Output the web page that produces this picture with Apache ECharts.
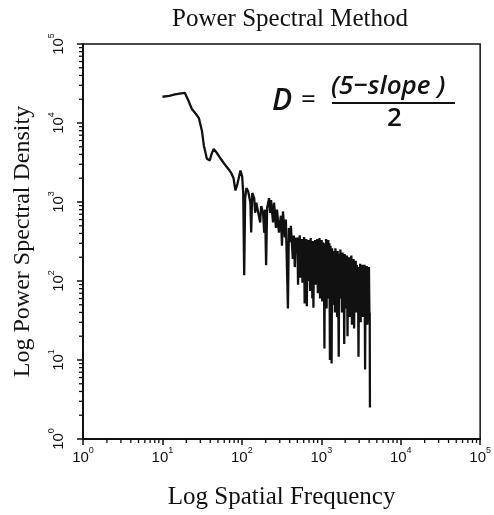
<!DOCTYPE html>
<html>
<head>
<meta charset="utf-8">
<script src="https://cdn.jsdelivr.net/npm/echarts@6/dist/echarts.min.js"></script>
<style>
html,body{margin:0;padding:0;background:#fff;}
#chart{width:494px;height:515px;}
</style>
</head>
<body>
<div id="chart"></div>
<script>
// ---- data ----
const freq = [
  10, 12.2, 14.4, 17.2, 19.2, 21, 23.5, 26.4, 28.8, 31.4, 33.2, 36.2, 39.4, 41.7, 44.2, 48.2, 54, 60.7, 68, 74, 78.6, 83, 88, 96, 101,
  104, 107, 110, 114, 120, 128, 131, 135, 143, 147, 152, 161, 170, 175, 185, 191, 196, 202, 208, 220, 227, 233, 247, 254, 269, 277,
  293, 310, 320, 329, 348, 358, 380, 391, 402, 414, 438, 451, 464, 477, 491, 500,
  510, 518, 526, 535, 543, 552, 561, 570, 579, 588, 598, 607, 617, 627, 637, 647, 658, 668, 679, 690,
  701, 712, 724, 735, 747, 759, 771, 784, 796, 809, 822, 835, 849, 862, 876, 890, 905, 919, 934, 949,
  964, 980, 995, 1011, 1028, 1044, 1061, 1078, 1095, 1113, 1131, 1149, 1167, 1186, 1205, 1225, 1244, 1264, 1285, 1305,
  1326, 1348, 1369, 1391, 1414, 1436, 1459, 1483, 1507, 1531, 1555, 1580, 1606, 1632, 1658, 1684, 1711, 1739, 1767, 1795,
  1824, 1853, 1883, 1913, 1944, 1975, 2007, 2039, 2072, 2105, 2139, 2173, 2208, 2243, 2279, 2316, 2353, 2391, 2429, 2468,
  2508, 2548, 2589, 2630, 2673, 2715, 2759, 2803, 2848, 2894, 2940, 2988, 3036, 3084, 3134, 3184, 3235, 3287, 3340, 3393,
  3448, 3503, 3559, 3616, 3674, 3733, 3793, 3854, 3916, 3979, 4043, 4070, 4096
];
const psd = [
  21500, 22100, 23000, 23700, 24000, 19700, 15000, 13000, 11500, 8000, 5200, 3550, 3350, 4100, 4700, 4200, 3550, 3000, 2600, 2300, 2000, 1400, 1700, 2500, 2100,
  1300, 118, 1120, 1500, 1370, 980, 410, 1300, 1120, 730, 980, 1020, 550, 890, 730, 410, 800, 158, 840, 1120, 730, 1060, 550, 980, 470, 800,
  410, 670, 280, 760, 355, 600, 45, 470, 310, 500, 190, 375, 150, 355, 230, 355,
  90, 330, 140, 380, 110, 300, 200, 340, 95, 260, 150, 360, 52, 300, 120, 340, 48, 250, 100, 330,
  160, 280, 75, 350, 130, 290, 60, 320, 46, 270, 110, 330, 90, 250, 140, 340, 70, 300, 120, 350,
  60, 280, 150, 330, 55, 310, 100, 260, 14, 300, 90, 340, 45, 280, 120, 330, 60, 300, 10, 280,
  150, 9, 260, 50, 240, 80, 230, 40, 260, 110, 200, 35, 240, 90, 11, 220, 60, 250, 100, 200,
  40, 230, 75, 180, 16, 220, 60, 190, 45, 210, 20, 180, 70, 200, 35, 170, 90, 210, 28, 160,
  60, 190, 25, 150, 80, 180, 40, 160, 55, 140, 11, 150, 50, 165, 30, 140, 70, 160, 35, 150,
  45, 160, 7.6, 140, 40, 155, 28, 145, 60, 150, 30, 40, 2.5
];
const xTickExponents = [0, 1, 2, 3, 4, 5];
const yTickExponents = [0, 1, 2, 3, 4, 5];
const minorMultipliers = [2, 3, 4, 5, 6, 7, 8, 9];

const seriesData = freq.map((f, i) => [f, psd[i]]);
const minorValues = [];
xTickExponents.slice(0, -1).forEach(e => minorMultipliers.forEach(m => minorValues.push(m * Math.pow(10, e))));

const chart = echarts.init(document.getElementById('chart'), null, {renderer: 'canvas'});

const richLabel = {
  b: {fontSize: 15, fontFamily: 'Liberation Sans', color: '#111', lineHeight: 24},
  s: {fontSize: 9, fontFamily: 'Liberation Sans', color: '#111', verticalAlign: 'top', lineHeight: 10}
};
const fmt = v => '{b|10}{s|' + Math.round(Math.log10(v)) + '}';

const option = {
  animation: false,
  backgroundColor: '#fff',
  title: {
    text: 'Power Spectral Method',
    left: 167, top: 2,
    textStyle: {fontFamily: 'Liberation Serif', fontSize: 25, fontWeight: 'normal', color: '#111'}
  },
  grid: {left: 83, right: 10, top: 44, bottom: 71, show: true, borderColor: '#111', borderWidth: 1.5},
  xAxis: {
    type: 'log', logBase: 10,
    min: Math.pow(10, xTickExponents[0]), max: Math.pow(10, xTickExponents[xTickExponents.length - 1]),
    name: 'Log Spatial Frequency', nameLocation: 'middle', nameGap: 46,
    nameTextStyle: {fontFamily: 'Liberation Serif', fontSize: 25, color: '#111'},
    axisLine: {lineStyle: {color: '#111', width: 2}},
    axisTick: {length: 6, lineStyle: {color: '#111', width: 1.5}},
    axisLabel: {formatter: fmt, rich: richLabel, margin: 7},
    splitLine: {show: false}
  },
  yAxis: {
    type: 'log', logBase: 10,
    min: Math.pow(10, yTickExponents[0]), max: Math.pow(10, yTickExponents[yTickExponents.length - 1]),
    name: 'Log Power Spectral Density', nameLocation: 'middle', nameGap: 48, nameRotate: 90,
    nameTextStyle: {fontFamily: 'Liberation Serif', fontSize: 24, color: '#111'},
    axisLine: {lineStyle: {color: '#111', width: 2}},
    axisTick: {length: 6, lineStyle: {color: '#111', width: 1.5}},
    axisLabel: {formatter: fmt, rich: richLabel, rotate: 90, margin: 12},
    splitLine: {show: false}
  },
  graphic: [
    {type: 'text', left: 272, top: 86, style: {text: 'D', font: 'italic 600 30px "Open Sans"', fill: '#111'}},
    {type: 'text', left: 301, top: 88, style: {text: '=', font: '500 26px "Open Sans"', fill: '#111'}},
    {type: 'text', left: 331, top: 74, style: {text: '(5\u2212slope )', font: 'italic 600 26px "Open Sans"', fill: '#111'}},
    {type: 'line', shape: {x1: 332, y1: 103, x2: 455, y2: 103}, style: {stroke: '#111', lineWidth: 2}},
    {type: 'text', left: 387, top: 106, style: {text: '2', font: '600 26px "Open Sans"', fill: '#111'}}
  ],
  series: [
    {
      type: 'line', data: seriesData, showSymbol: false, symbol: 'none',
      lineStyle: {color: '#111', width: 2.3}, z: 3
    },
    {
      type: 'custom', data: minorValues, clip: false, silent: true, z: 4,
      renderItem: (params, api) => {
        const v = api.value(0);
        const px = api.coord([v, 1]);
        const py = api.coord([1, v]);
        return {
          type: 'group', children: [
            {type: 'line', shape: {x1: px[0], y1: px[1], x2: px[0], y2: px[1] + 4}, style: {stroke: '#111', lineWidth: 1.3}},
            {type: 'line', shape: {x1: py[0] - 4, y1: py[1], x2: py[0], y2: py[1]}, style: {stroke: '#111', lineWidth: 1.3}}
          ]
        };
      },
      encode: {x: 0}
    }
  ]
};
chart.setOption(option);
</script>
</body>
</html>
